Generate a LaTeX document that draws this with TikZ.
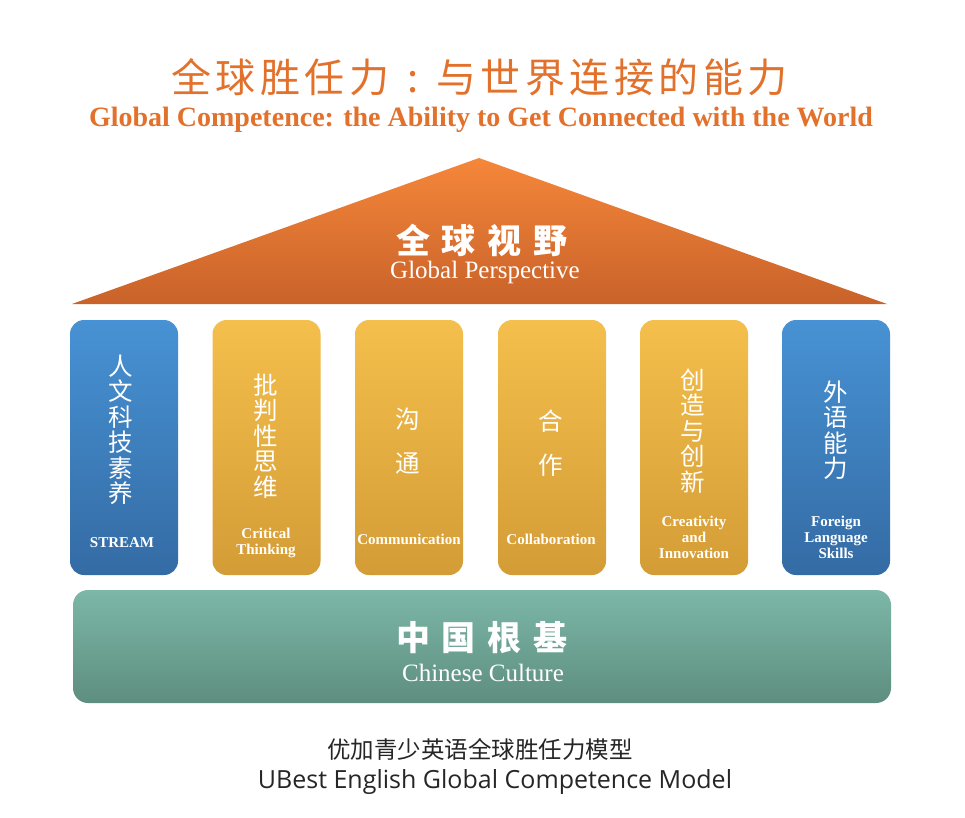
\documentclass[tikz,border=0pt]{standalone}
\usepackage{fontspec}
\setmainfont{Liberation Serif}
\newfontfamily\cjk{Noto Sans CJK SC}
\newfontfamily\uisans{Open Sans}
\definecolor{titleorange}{HTML}{E2712C}
\definecolor{roofTop}{HTML}{F5873A}
\definecolor{roofBot}{HTML}{C9622A}
\definecolor{blueTop}{HTML}{4792D4}
\definecolor{blueBot}{HTML}{346BA4}
\definecolor{goldTop}{HTML}{F4BF4C}
\definecolor{goldBot}{HTML}{D49C36}
\definecolor{tealTop}{HTML}{7CB7A7}
\definecolor{tealBot}{HTML}{5E8E80}
\newcommand\tk{\kern4.5pt}
\newcommand\bk{\kern12pt}
\begin{document}
\begin{tikzpicture}[x=1pt,y=-1pt,
  pillar/.style={minimum width=108pt,minimum height=255pt,rounded corners=14pt,inner sep=0pt},
  bluep/.style={pillar,top color=blueTop,bottom color=blueBot},
  goldp/.style={pillar,top color=goldTop,bottom color=goldBot},
  zh/.style={text=white,align=center,inner sep=0pt,font=\cjk\fontsize{24.5}{25.5}\selectfont},
  en/.style={text=white,align=center,inner sep=0pt,font=\bfseries\fontsize{15}{16}\selectfont},
  bigzh/.style={text=white,font=\cjk\bfseries\fontsize{34}{36}\selectfont,inner sep=0pt},
  bigen/.style={text=white,font=\fontsize{25}{27}\selectfont,inner sep=0pt}]
\useasboundingbox (0,0) rectangle (965,817);
\fill[white] (0,0) rectangle (965,817);
% titles
\node[text=titleorange,font=\cjk\fontsize{40}{42}\selectfont,inner sep=0pt,anchor=base west] (t1) at (171,92) {全\tk{}球\tk{}胜\tk{}任\tk{}力\kern18pt{}:\kern18pt{}与\tk{}世\tk{}界\tk{}连\tk{}接\tk{}的\tk{}能\tk{}力};
\node[text=titleorange,font=\bfseries\fontsize{28}{30}\selectfont,inner sep=0pt] (t2) at (481,120) {Global Competence: the Ability to Get Connected with the World};
% roof
\shade[top color=roofTop,bottom color=roofBot] (479,158) -- (887,304) -- (72,304) -- cycle;
\node[bigzh] (r1) at (482,240) {全\bk{}球\bk{}视\bk{}野};
\node[bigen] (r2) at (485,272) {Global Perspective};
% pillars
\node[bluep] (p1) at (124,447.5) {};
\node[goldp] (p2) at (266.5,447.5) {};
\node[goldp] (p3) at (409,447.5) {};
\node[goldp] (p4) at (552,447.5) {};
\node[goldp] (p5) at (694,447.5) {};
\node[bluep] (p6) at (836,447.5) {};
\node[zh] (z1) at (121,430) {人\\文\\科\\技\\素\\养};
\node[zh] (z2) at (266,436) {批\\判\\性\\思\\维};
\node[zh] (z3) at (408,441) {沟\\[19pt]通};
\node[zh] (z4) at (551,443) {合\\[19pt]作};
\node[zh] (z5) at (693,431) {创\\造\\与\\创\\新};
\node[zh] (z6) at (836,430) {外\\语\\能\\力};
\node[en] (e1) at (122,543) {STREAM};
\node[en] (e2) at (266,543) {Critical\\Thinking};
\node[en] (e3) at (409,539) {Communication};
\node[en] (e4) at (551,539) {Collaboration};
\node[en] (e5) at (694,537) {Creativity\\and\\Innovation};
\node[en] (e6) at (836,537) {Foreign\\Language\\Skills};
% base
\node[minimum width=818pt,minimum height=113pt,rounded corners=15pt,top color=tealTop,bottom color=tealBot,inner sep=0pt] (base) at (482,646.5) {};
\node[bigzh] (b1) at (482,638) {中\bk{}国\bk{}根\bk{}基};
\node[bigen] (b2) at (483,673) {Chinese Culture};
% caption
\node[text=black!85,font=\cjk\fontsize{23.5}{25}\selectfont,inner sep=0pt] (c1) at (480,749) {优加青少英语全球胜任力模型};
\node[text=black!85,font=\uisans\fontsize{25}{27}\selectfont,inner sep=0pt] (c2) at (495,782) {UBest English Global Competence Model};
\end{tikzpicture}
\end{document}
